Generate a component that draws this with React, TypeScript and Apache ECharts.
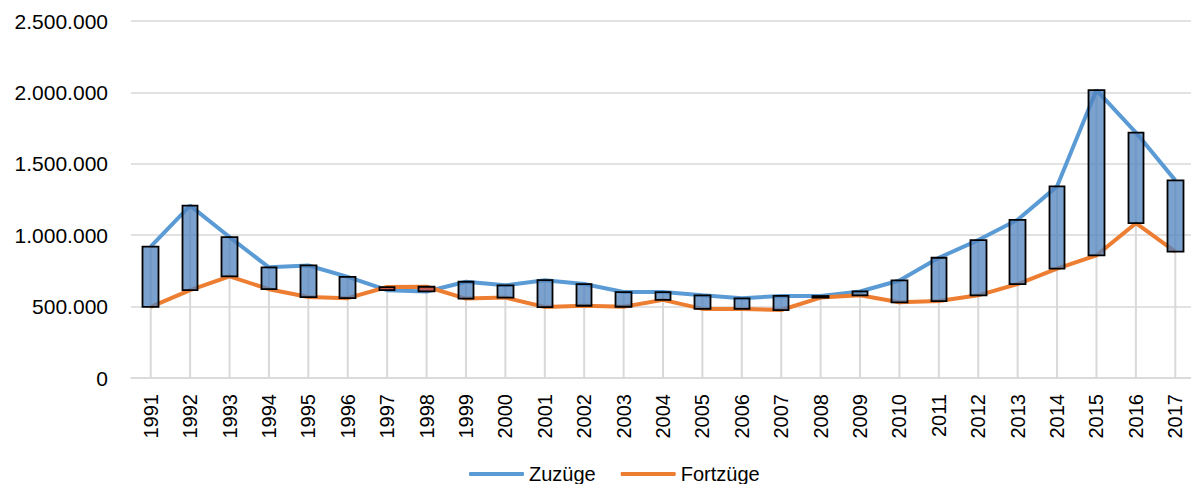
import React, { useEffect, useRef } from "react";
import * as echarts from "echarts";

const years = [
  "1991", "1992", "1993", "1994", "1995", "1996", "1997", "1998", "1999", "2000",
  "2001", "2002", "2003", "2004", "2005", "2006", "2007", "2008", "2009", "2010",
  "2011", "2012", "2013", "2014", "2015", "2016", "2017",
];

const zuzuege = [
  920000, 1207000, 987000, 775000, 788000, 708000, 615000, 606000, 674000, 649000,
  685000, 658000, 602000, 602000, 579000, 558000, 575000, 574000, 606000, 683000,
  842000, 966000, 1108000, 1342000, 2016000, 1719000, 1384000,
];

const fortzuege = [
  498000, 615000, 711000, 622000, 567000, 559000, 637000, 639000, 556000, 563000,
  497000, 506000, 499000, 547000, 484000, 484000, 476000, 563000, 579000, 530000,
  539000, 579000, 658000, 766000, 859000, 1084000, 885000,
];

const yTicks = { min: 0, max: 2500000, interval: 500000 };

const FONT = "'Liberation Sans', Arial, sans-serif";

function fmt(v: number): string {
  return String(Math.round(v)).replace(/\B(?=(\d{3})+(?!\d))/g, ".");
}

export default function App() {
  const ref = useRef<HTMLDivElement>(null);

  useEffect(() => {
    if (!ref.current) return;
    const chart = echarts.init(ref.current, null, { renderer: "svg" });

    const candle = years.map((_, i) => [
      fortzuege[i],
      zuzuege[i],
      Math.min(fortzuege[i], zuzuege[i]),
      Math.max(fortzuege[i], zuzuege[i]),
    ]);
    const drop = years.map((_, i) => Math.max(fortzuege[i], zuzuege[i]));

    chart.setOption({
      animation: false,
      backgroundColor: "#ffffff",
      grid: { left: 131, right: 4, top: 21, bottom: 114, containLabel: false },
      legend: {
        data: ["Zuzüge", "Fortzüge"],
        left: 469,
        top: 464,
        padding: 0,
        icon: "roundRect",
        itemWidth: 55,
        itemHeight: 4,
        itemGap: 25,
        textStyle: { fontFamily: FONT, fontSize: 20, color: "#000" },
      },
      xAxis: {
        type: "category",
        data: years,
        boundaryGap: true,
        axisLine: { show: true, lineStyle: { color: "#D9D9D9", width: 1.5 } },
        axisTick: { show: false },
        axisLabel: {
          rotate: 90,
          margin: 16,
          interval: 0,
          fontFamily: FONT,
          fontSize: 20,
          color: "#000",
        },
        splitLine: { show: false },
      },
      yAxis: {
        type: "value",
        min: yTicks.min,
        max: yTicks.max,
        interval: yTicks.interval,
        axisLine: { show: false },
        axisTick: { show: false },
        axisLabel: {
          margin: 23,
          fontFamily: FONT,
          fontSize: 21,
          color: "#000",
          formatter: (v: number) => fmt(v),
        },
        splitLine: { lineStyle: { color: "#D9D9D9", width: 1.5 } },
      },
      series: [
        {
          name: "drop",
          type: "bar",
          data: drop,
          barWidth: 2,
          itemStyle: { color: "#D9D9D9" },
          silent: true,
          z: 1,
        },
        {
          name: "Zuzüge",
          type: "line",
          data: zuzuege,
          showSymbol: false,
          symbol: "none",
          lineStyle: { color: "#5B9BD5", width: 4 },
          itemStyle: { color: "#5B9BD5" },
          z: 2,
        },
        {
          name: "Fortzüge",
          type: "line",
          data: fortzuege,
          showSymbol: false,
          symbol: "none",
          lineStyle: { color: "#ED7D31", width: 4 },
          itemStyle: { color: "#ED7D31" },
          z: 3,
        },
        {
          name: "updown",
          type: "candlestick",
          data: candle,
          barWidth: 16,
          silent: true,
          itemStyle: {
            color: "rgba(79,129,189,0.75)",
            color0: "rgba(192,80,77,0.8)",
            borderColor: "#000",
            borderColor0: "#000",
            borderColorDoji: "#000",
            borderWidth: 1.8,
          },
          z: 4,
        },
      ],
    });

    return () => chart.dispose();
  }, []);

  return <div ref={ref} style={{ width: 1199, height: 492, margin: -8 }} />;
}
